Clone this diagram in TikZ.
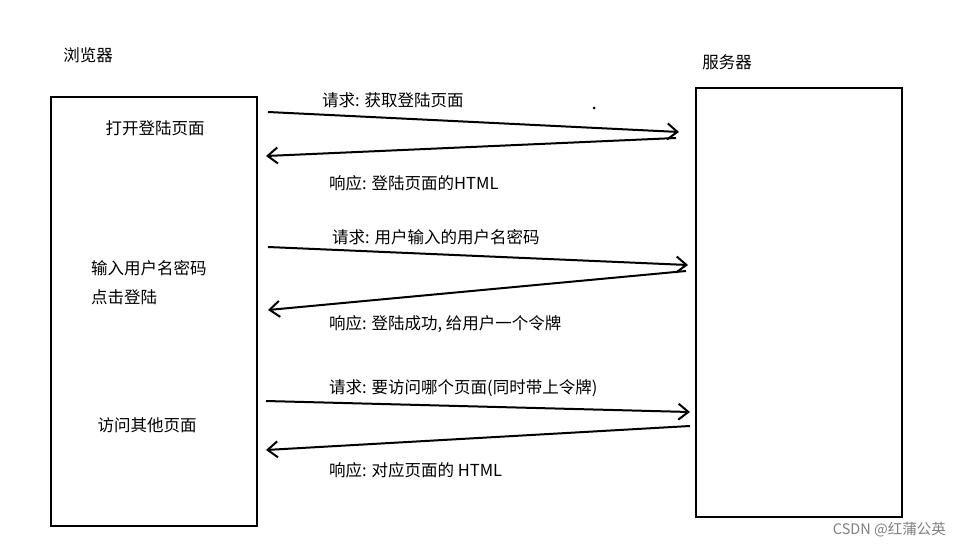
\documentclass[tikz,border=0pt]{standalone}
\usepackage{fontspec}
\setmainfont{Noto Sans CJK SC}
\usetikzlibrary{arrows.meta}
\begin{document}
\begin{tikzpicture}[x=1pt,y=-1pt,
  box/.style={draw,line width=2pt},
  msg/.style={line width=2pt,-{Straight Barb[length=10pt,width=16pt,line width=2pt]}},
  lbl/.style={font=\fontsize{16.5}{20}\selectfont,inner sep=0pt}]
\useasboundingbox (0,0) rectangle (961,549);
\fill[white] (0,0) rectangle (961,549);
\node[lbl] (bt) at (88,55) {浏览器};
\node[lbl] (st) at (727,62) {服务器};
\draw[box] (51,97) rectangle (257,526);
\draw[box] (696,88) rectangle (902,517);
\node[lbl] (l1) at (155,128) {打开登陆页面};
\node[lbl,anchor=west] (l2) at (91,268) {输入用户名密码};
\node[lbl,anchor=west] (l3) at (91,297) {点击登陆};
\node[lbl] (l4) at (147,425) {访问其他页面};
\coordinate (a1s) at (268,112); \coordinate (a1e) at (679,132);
\coordinate (b1s) at (676,138); \coordinate (b1e) at (266,156);
\coordinate (a2s) at (268,247); \coordinate (a2e) at (688,265);
\coordinate (b2s) at (686,271); \coordinate (b2e) at (268,310);
\coordinate (a3s) at (266,401); \coordinate (a3e) at (690,412);
\coordinate (b3s) at (690,426); \coordinate (b3e) at (266,450);
\draw[msg] (a1s) -- (a1e);
\draw[msg] (b1s) -- (b1e);
\draw[msg] (a2s) -- (a2e);
\draw[msg] (b2s) -- (b2e);
\draw[msg] (a3s) -- (a3e);
\draw[msg] (b3s) -- (b3e);
\node[lbl,anchor=west] (m1) at (322,100) {请求: 获取登陆页面};
\node[lbl,anchor=west] (m2) at (329,183) {响应: 登陆页面的HTML};
\node[lbl,anchor=west] (m3) at (332,237) {请求: 用户输入的用户名密码};
\node[lbl,anchor=west] (m4) at (329,324) {响应: 登陆成功, 给用户一个令牌};
\node[lbl,anchor=west] (m5) at (329,388) {请求: 要访问哪个页面(同时带上令牌)};
\node[lbl,anchor=west] (m6) at (329,470) {响应: 对应页面的 HTML};
\fill (594,108) circle (1.5);
\node[lbl,anchor=east,text=gray,font=\fontsize{14.5}{17}\selectfont] (wm) at (946,530) {CSDN @红蒲公英};
\end{tikzpicture}
\end{document}
